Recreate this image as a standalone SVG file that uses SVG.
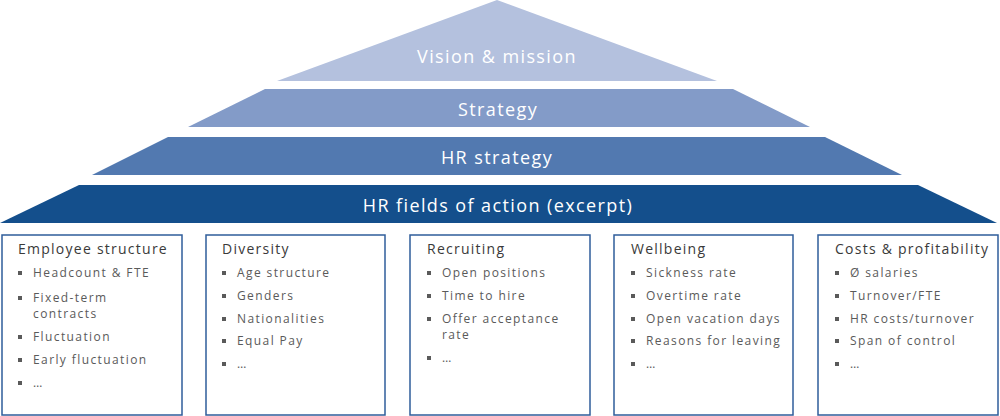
<svg xmlns="http://www.w3.org/2000/svg" width="1000" height="416" viewBox="0 0 1000 416">
<style>
.lvl{font-family:"Open Sans","Liberation Sans",sans-serif;font-size:18px;fill:#fff;text-anchor:middle;letter-spacing:1.4px}
.box{fill:#fff;stroke:#2F5D9B;stroke-width:1.5}
.ttl{font-family:"Open Sans","Liberation Sans",sans-serif;font-size:14px;fill:#3A3A3A;letter-spacing:1.25px}
.itm{font-family:"Open Sans","Liberation Sans",sans-serif;font-size:12px;fill:#5A5A5A;letter-spacing:1.4px}
.bul{fill:#5A5A5A}
</style>
<defs>
<rect id="b" class="bul" width="4" height="4"/>
</defs>
<g id="pyramid">
<g id="vision"><polygon points="497,0 717,81 277,81" fill="#B4C1DE"/><text class="lvl" x="497" y="63">Vision &amp; mission</text></g>
<g id="strategy"><polygon points="265,89 733,89 810,127 188,127" fill="#839BC8"/><text class="lvl" x="498" y="116">Strategy</text></g>
<g id="hrstrategy"><polygon points="168,137 825,137 902,175 92,175" fill="#5279B0"/><text class="lvl" x="497" y="164">HR strategy</text></g>
<g id="fields"><polygon points="79,185 918,185 997,223 0,223" fill="#144F8C"/><text class="lvl" x="498" y="212">HR fields of action (excerpt)</text></g>
</g>
<g id="connectors"></g>
<g id="box1">
<rect class="box" x="2" y="235" width="180" height="180"/>
<text class="ttl" x="18" y="254">Employee structure</text>
<use href="#b" x="18" y="271"/><text class="itm" x="33" y="277">Headcount &amp; FTE</text>
<use href="#b" x="18" y="296"/><text class="itm" x="33" y="302">Fixed-term</text><text class="itm" x="33" y="318">contracts</text>
<use href="#b" x="18" y="335"/><text class="itm" x="33" y="341">Fluctuation</text>
<use href="#b" x="18" y="358"/><text class="itm" x="33" y="364">Early fluctuation</text>
<use href="#b" x="18" y="381"/><text class="itm" x="33" y="387">…</text>
</g>
<g id="box2">
<rect class="box" x="206" y="235" width="179" height="180"/>
<text class="ttl" x="222" y="254">Diversity</text>
<use href="#b" x="222" y="271"/><text class="itm" x="237" y="277">Age structure</text>
<use href="#b" x="222" y="294"/><text class="itm" x="237" y="300">Genders</text>
<use href="#b" x="222" y="317"/><text class="itm" x="237" y="323">Nationalities</text>
<use href="#b" x="222" y="339"/><text class="itm" x="237" y="345">Equal Pay</text>
<use href="#b" x="222" y="362"/><text class="itm" x="237" y="368">…</text>
</g>
<g id="box3">
<rect class="box" x="410" y="235" width="180" height="180"/>
<text class="ttl" x="427" y="254">Recruiting</text>
<use href="#b" x="427" y="271"/><text class="itm" x="442" y="277">Open positions</text>
<use href="#b" x="427" y="294"/><text class="itm" x="442" y="300">Time to hire</text>
<use href="#b" x="427" y="317"/><text class="itm" x="442" y="323">Offer acceptance</text><text class="itm" x="442" y="339">rate</text>
<use href="#b" x="427" y="356"/><text class="itm" x="442" y="362">…</text>
</g>
<g id="box4">
<rect class="box" x="614" y="235" width="179" height="180"/>
<text class="ttl" x="631" y="254">Wellbeing</text>
<use href="#b" x="631" y="271"/><text class="itm" x="646" y="277">Sickness rate</text>
<use href="#b" x="631" y="294"/><text class="itm" x="646" y="300">Overtime rate</text>
<use href="#b" x="631" y="317"/><text class="itm" x="646" y="323">Open vacation days</text>
<use href="#b" x="631" y="339"/><text class="itm" x="646" y="345">Reasons for leaving</text>
<use href="#b" x="631" y="362"/><text class="itm" x="646" y="368">…</text>
</g>
<g id="box5">
<rect class="box" x="818" y="235" width="180" height="180"/>
<text class="ttl" x="835" y="254">Costs &amp; profitability</text>
<use href="#b" x="835" y="271"/><text class="itm" x="850" y="277">Ø salaries</text>
<use href="#b" x="835" y="294"/><text class="itm" x="850" y="300">Turnover/FTE</text>
<use href="#b" x="835" y="317"/><text class="itm" x="850" y="323">HR costs/turnover</text>
<use href="#b" x="835" y="339"/><text class="itm" x="850" y="345">Span of control</text>
<use href="#b" x="835" y="362"/><text class="itm" x="850" y="368">…</text>
</g>
</svg>
